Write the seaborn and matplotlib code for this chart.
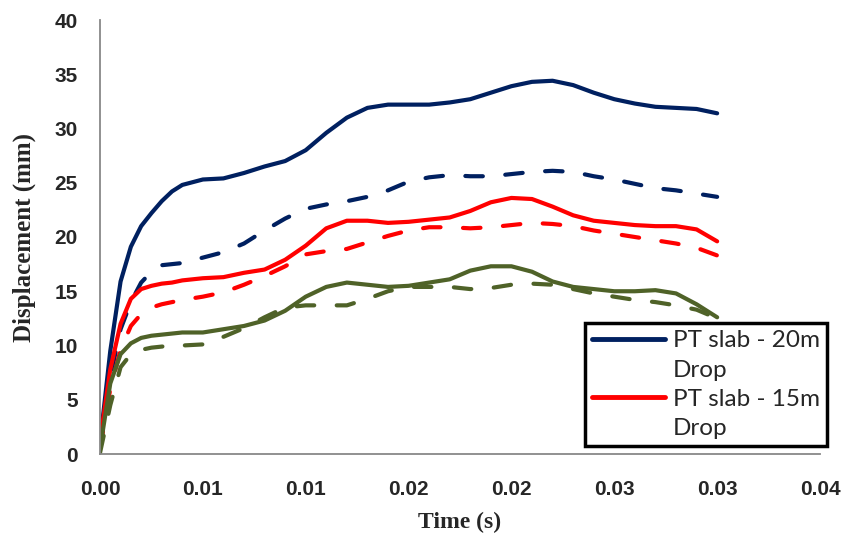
import matplotlib
matplotlib.use("Agg")
import matplotlib.pyplot as plt
from matplotlib.lines import Line2D
import seaborn as sns
import pandas as pd

# time (s): finer samples during the initial rise, then every 1 ms
time = [0, 0.0005, 0.001, 0.0015, 0.002, 0.0025, 0.003, 0.0035, 0.004,
        0.005, 0.006, 0.007, 0.008, 0.009, 0.010, 0.011, 0.012, 0.013,
        0.014, 0.015, 0.016, 0.017, 0.018, 0.019, 0.020, 0.021, 0.022,
        0.023, 0.024, 0.025, 0.026, 0.027, 0.028, 0.029, 0.030]

# displacement (mm)
pt20_solid = [1.0, 9.5, 15.9, 19.1, 21.0, 22.2, 23.3, 24.2, 24.8,
              25.3, 25.4, 25.9, 26.5, 27.0, 28.0, 29.6, 31.0, 31.9, 32.2, 32.2, 32.2,
              32.4, 32.7, 33.3, 33.9, 34.3, 34.4, 34.0, 33.3, 32.7, 32.3, 32.0, 31.9,
              31.8, 31.4]
pt20_dash = [0.5, 7.1, 11.5, 14.0, 15.8, 16.8, 17.4, 17.5, 17.6,
             18.1, 18.6, 19.4, 20.6, 21.7, 22.6, 23.0, 23.3, 23.7, 24.3, 25.1, 25.5,
             25.7, 25.6, 25.6, 25.8, 26.0, 26.1, 26.0, 25.6, 25.3, 24.9, 24.5, 24.3,
             24.0, 23.7]
pt15_solid = [1.2, 7.8, 12.0, 14.3, 15.2, 15.5, 15.7, 15.8, 16.0,
              16.2, 16.3, 16.7, 17.0, 17.9, 19.2, 20.8, 21.5, 21.5, 21.3, 21.4, 21.6,
              21.8, 22.4, 23.2, 23.6, 23.5, 22.8, 22.0, 21.5, 21.3, 21.1, 21.0, 21.0,
              20.7, 19.6]
pt15_dash = [0.5, 6.0, 9.6, 11.8, 12.9, 13.5, 13.8, 14.0, 14.2,
             14.5, 14.9, 15.6, 16.4, 17.3, 18.4, 18.7, 18.9, 19.5, 20.1, 20.6, 20.9,
             20.9, 20.8, 20.9, 21.1, 21.3, 21.2, 21.0, 20.6, 20.3, 20.0, 19.7, 19.4,
             19.0, 18.3]
green_solid = [0.5, 6.5, 9.2, 10.2, 10.7, 10.9, 11.0, 11.1, 11.2,
               11.2, 11.5, 11.8, 12.3, 13.2, 14.5, 15.4, 15.8, 15.6, 15.4, 15.5, 15.8,
               16.1, 16.9, 17.3, 17.3, 16.8, 15.9, 15.4, 15.2, 15.0, 15.0, 15.1, 14.8,
               13.8, 12.6]
green_dash = [0.1, 4.5, 8.0, 9.2, 9.6, 9.8, 9.9, 10.0, 10.0,
              10.1, 10.8, 11.6, 12.6, 13.5, 13.7, 13.7, 13.7, 14.3, 15.0, 15.4, 15.4,
              15.4, 15.2, 15.3, 15.6, 15.7, 15.6, 15.2, 14.8, 14.5, 14.2, 14.0, 13.7,
              13.3, 12.5]

x_ticks = [0, 0.005, 0.01, 0.015, 0.02, 0.025, 0.03, 0.035]
x_tick_labels = ['0.00', '0.01', '0.01', '0.02', '0.02', '0.03', '0.03', '0.04']
y_ticks = [0, 5, 10, 15, 20, 25, 30, 35, 40]

navy = '#002060'
red = '#FF0000'
olive = '#4F6228'

series = [
    (pt20_solid, navy, '-'),
    (pt20_dash, navy, '--'),
    (pt15_solid, red, '-'),
    (pt15_dash, red, '--'),
    (green_solid, olive, '-'),
    (green_dash, olive, '--'),
]

sns.set_style('white')
plt.rcParams['font.family'] = ['Lato', 'DejaVu Sans']

fig = plt.figure(figsize=(8.46, 5.41), dpi=100)
ax = fig.add_axes([100 / 846, 87 / 541, 720 / 846, 434 / 541])

for vals, col, ls in series:
    df = pd.DataFrame({'t': time, 'd': vals})
    sns.lineplot(data=df, x='t', y='d', ax=ax, color=col, linewidth=3.0)
    l = ax.lines[-1]
    l.set_solid_capstyle('round')
    l.set_solid_joinstyle('round')
    if ls == '--':
        l.set_dashes((4.2, 5.4))
        l.set_dash_capstyle('round')
        l.set_dash_joinstyle('round')

ax.set_xlim(0, 0.035)
ax.set_ylim(0, 40)
ax.set_xticks(x_ticks)
ax.set_xticklabels(x_tick_labels)
ax.set_yticks(y_ticks)
for lab in ax.get_xticklabels() + ax.get_yticklabels():
    lab.set_family('Liberation Sans')
    lab.set_fontweight('bold')
    lab.set_fontsize(15)

for side in ['top', 'right']:
    ax.spines[side].set_visible(False)
for side in ['left', 'bottom']:
    ax.spines[side].set_color('#888888')
    ax.spines[side].set_linewidth(1.3)
ax.tick_params(axis='both', direction='out', length=6, width=1.3, color='#888888')
ax.tick_params(axis='x', pad=13)
ax.tick_params(axis='y', pad=10)

ax.set_xlabel('Time (s)', family='Liberation Serif', fontweight='bold', fontsize=17)
ax.set_ylabel('Displacement (mm)', family='Liberation Serif', fontweight='bold', fontsize=18)
ax.xaxis.set_label_coords(0.5, -0.133)
ax.yaxis.set_label_coords(-0.089, 0.5)

handles = [Line2D([], [], color=navy, lw=3.5, solid_capstyle='round'),
           Line2D([], [], linestyle='none'),
           Line2D([], [], color=red, lw=3.5, solid_capstyle='round'),
           Line2D([], [], linestyle='none')]
labels = ['PT slab - 20m', 'Drop', 'PT slab - 15m', 'Drop']
leg = ax.legend(handles, labels, loc='upper left',
                bbox_to_anchor=(585 / 846, 1 - 323 / 541), bbox_transform=fig.transFigure,
                fontsize=17.5, frameon=True, fancybox=False, framealpha=1,
                edgecolor='black', handlelength=3.0, handletextpad=0.3,
                labelspacing=0.34, borderpad=0.3, borderaxespad=0)
leg.get_frame().set_linewidth(2.5)

fig.savefig('out.png', dpi=100)
